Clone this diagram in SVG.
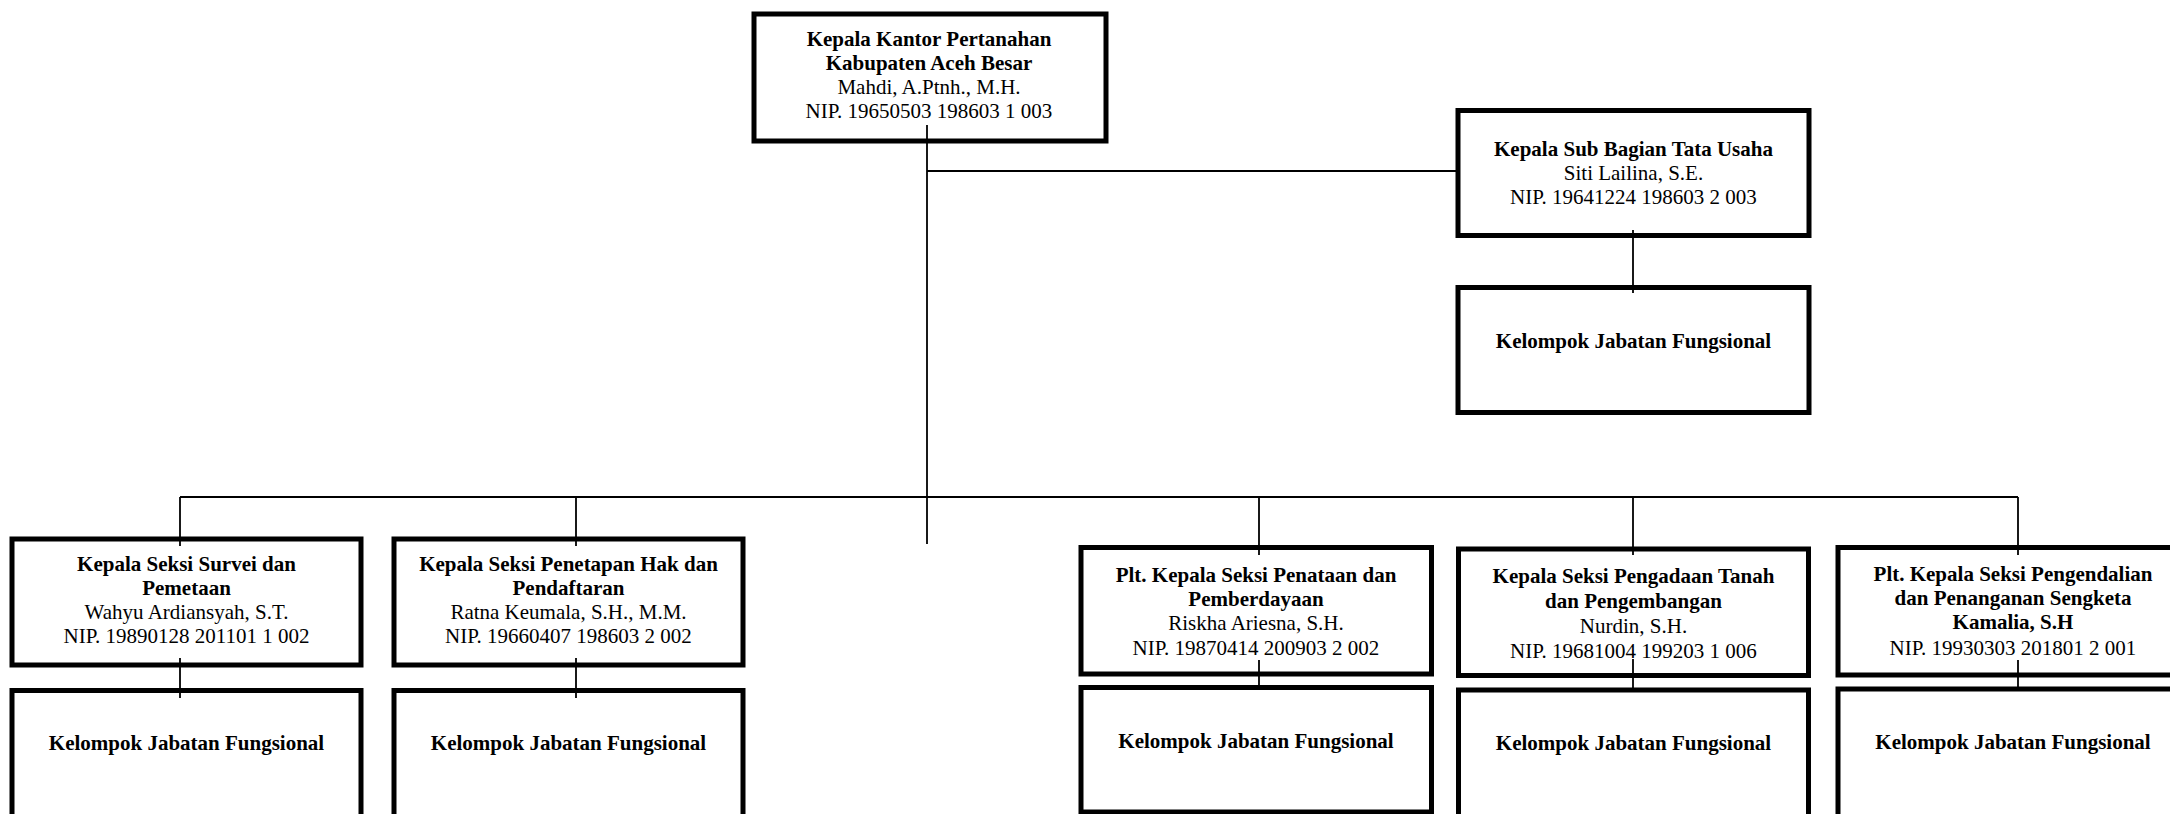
<svg xmlns="http://www.w3.org/2000/svg" width="2170" height="814" viewBox="0 0 2170 814">
<style>
.box{fill:#fff;stroke:#000;stroke-width:5}
.ln{stroke:#000;stroke-width:1.8;fill:none}
text{font-family:"Liberation Serif","Times New Roman",serif;font-size:21px;fill:#000;text-anchor:middle}
.b{font-weight:bold}
</style>
<rect width="2170" height="814" fill="#fff"/>
<g id="n-kepala-kantor">
<rect class="box" x="754" y="14" width="352" height="127"/>
<text x="929" y="46" class="b">Kepala Kantor Pertanahan</text>
<text x="929" y="70" class="b">Kabupaten Aceh Besar</text>
<text x="929" y="94">Mahdi, A.Ptnh., M.H.</text>
<text x="929" y="118">NIP. 19650503 198603 1 003</text>
</g>
<g id="n-subbag">
<rect class="box" x="1458" y="110.5" width="351" height="125"/>
<text x="1633.5" y="156" class="b">Kepala Sub Bagian Tata Usaha</text>
<text x="1633.5" y="180">Siti Lailina, S.E.</text>
<text x="1633.5" y="204">NIP. 19641224 198603 2 003</text>
</g>
<g id="n-subbag-jf">
<rect class="box" x="1458" y="287.5" width="351" height="125"/>
<text x="1633.5" y="348" class="b">Kelompok Jabatan Fungsional</text>
</g>
<g id="n-survei">
<rect class="box" x="12" y="539" width="349" height="126"/>
<text x="186.5" y="571" class="b">Kepala Seksi Survei dan</text>
<text x="186.5" y="595" class="b">Pemetaan</text>
<text x="186.5" y="619">Wahyu Ardiansyah, S.T.</text>
<text x="186.5" y="643">NIP. 19890128 201101 1 002</text>
</g>
<g id="n-survei-jf">
<rect class="box" x="12" y="690.5" width="349" height="130"/>
<text x="186.5" y="750" class="b">Kelompok Jabatan Fungsional</text>
</g>
<g id="n-penetapan">
<rect class="box" x="394" y="539" width="349" height="126"/>
<text x="568.5" y="571" class="b">Kepala Seksi Penetapan Hak dan</text>
<text x="568.5" y="595" class="b">Pendaftaran</text>
<text x="568.5" y="619">Ratna Keumala, S.H., M.M.</text>
<text x="568.5" y="643">NIP. 19660407 198603 2 002</text>
</g>
<g id="n-penetapan-jf">
<rect class="box" x="394" y="690.5" width="349" height="130"/>
<text x="568.5" y="750" class="b">Kelompok Jabatan Fungsional</text>
</g>
<g id="n-penataan">
<rect class="box" x="1081" y="547.5" width="350.5" height="126.5"/>
<text x="1256" y="582" class="b">Plt. Kepala Seksi Penataan dan</text>
<text x="1256" y="606" class="b">Pemberdayaan</text>
<text x="1256" y="630">Riskha Ariesna, S.H.</text>
<text x="1256" y="655">NIP. 19870414 200903 2 002</text>
</g>
<g id="n-penataan-jf">
<rect class="box" x="1081" y="687.5" width="350.5" height="124.5"/>
<text x="1256" y="748" class="b">Kelompok Jabatan Fungsional</text>
</g>
<g id="n-pengadaan">
<rect class="box" x="1458.5" y="549" width="350" height="126.5"/>
<text x="1633.5" y="583" class="b">Kepala Seksi Pengadaan Tanah</text>
<text x="1633.5" y="608" class="b">dan Pengembangan</text>
<text x="1633.5" y="633">Nurdin, S.H.</text>
<text x="1633.5" y="658">NIP. 19681004 199203 1 006</text>
</g>
<g id="n-pengadaan-jf">
<rect class="box" x="1458.5" y="690" width="350" height="130"/>
<text x="1633.5" y="750" class="b">Kelompok Jabatan Fungsional</text>
</g>
<g id="n-pengendalian">
<rect class="box" x="1838" y="547.5" width="350" height="127.5"/>
<text x="2013" y="581" class="b">Plt. Kepala Seksi Pengendalian</text>
<text x="2013" y="605" class="b">dan Penanganan Sengketa</text>
<text x="2013" y="629" class="b">Kamalia, S.H</text>
<text x="2013" y="655">NIP. 19930303 201801 2 001</text>
</g>
<g id="n-pengendalian-jf">
<rect class="box" x="1838" y="689" width="350" height="131"/>
<text x="2013" y="749" class="b">Kelompok Jabatan Fungsional</text>
</g>
<g id="connectors">
<line class="ln" x1="927" y1="125" x2="927" y2="544"/>
<line class="ln" x1="927" y1="171" x2="1458" y2="171"/>
<line class="ln" x1="1633" y1="230" x2="1633" y2="293"/>
<line class="ln" x1="180" y1="497" x2="2018" y2="497"/>
<line class="ln" x1="180" y1="497" x2="180" y2="546"/>
<line class="ln" x1="576" y1="497" x2="576" y2="546"/>
<line class="ln" x1="1259" y1="497" x2="1259" y2="555"/>
<line class="ln" x1="1633" y1="497" x2="1633" y2="555"/>
<line class="ln" x1="2018" y1="497" x2="2018" y2="555"/>
<line class="ln" x1="180" y1="658" x2="180" y2="698"/>
<line class="ln" x1="576" y1="658" x2="576" y2="698"/>
<line class="ln" x1="1259" y1="660" x2="1259" y2="686"/>
<line class="ln" x1="1633" y1="659" x2="1633" y2="688"/>
<line class="ln" x1="2018" y1="660" x2="2018" y2="688"/>
</g>
</svg>
